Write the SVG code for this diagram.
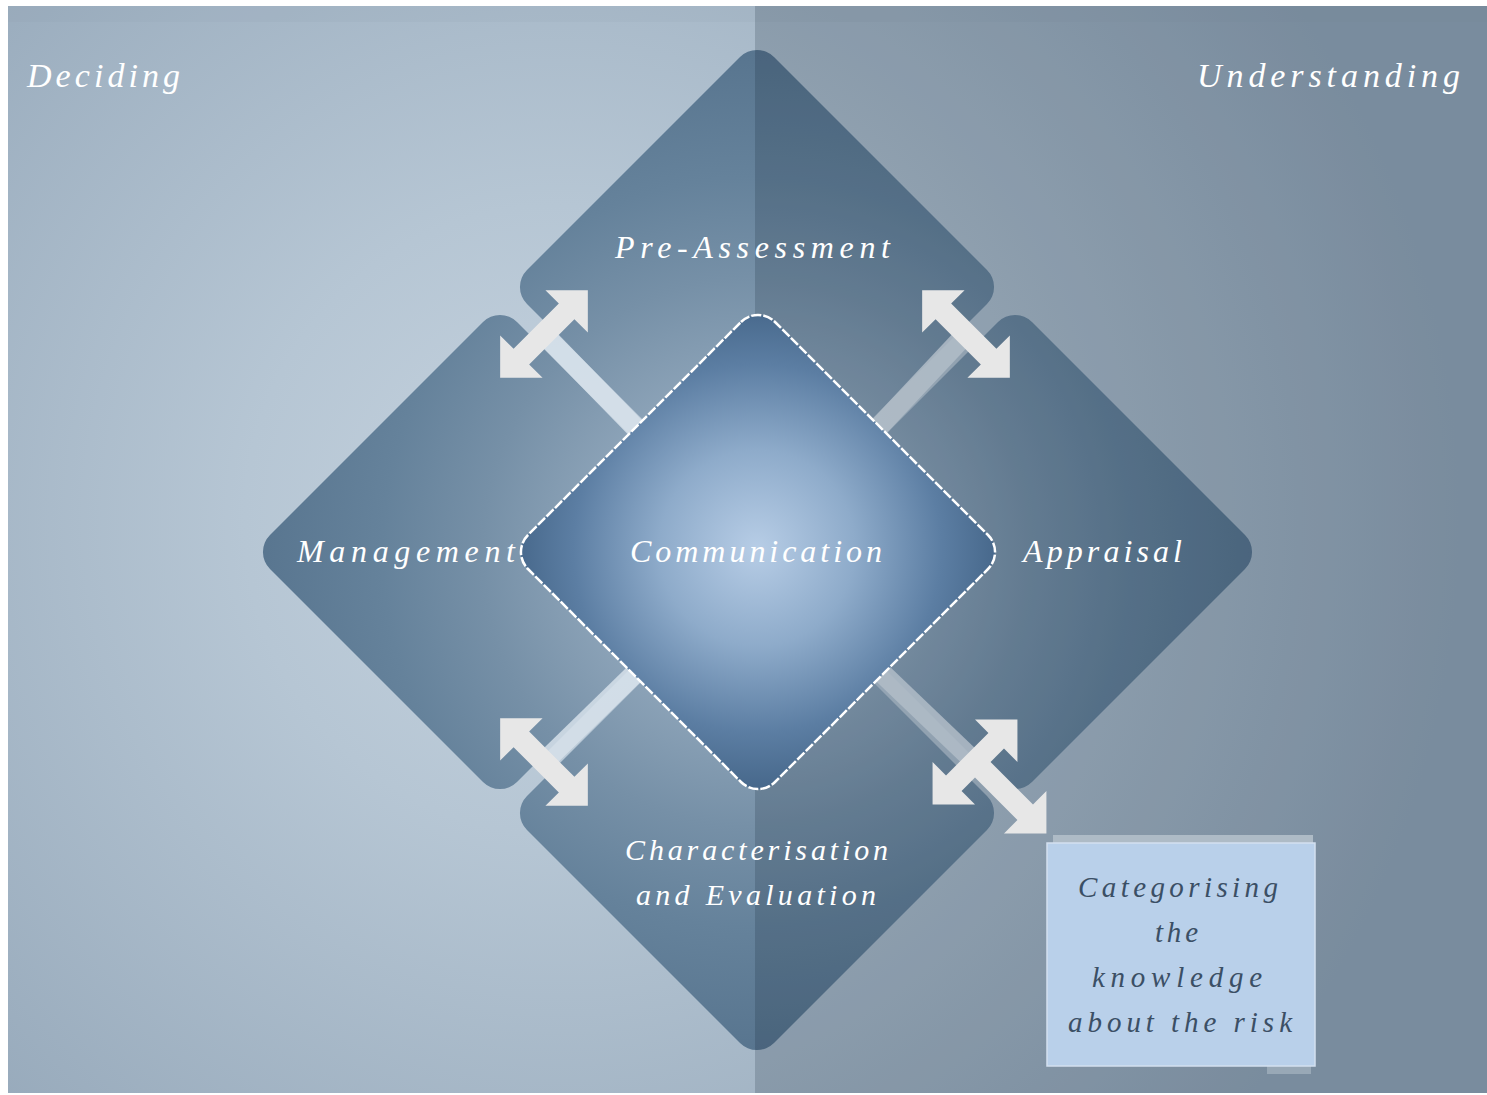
<svg xmlns="http://www.w3.org/2000/svg" width="1487" height="1095" viewBox="0 0 1487 1095">
<defs>
<radialGradient id="bg" gradientUnits="userSpaceOnUse" cx="560" cy="520" r="900">
<stop offset="0" stop-color="#c6d3df"/>
<stop offset="0.35" stop-color="#b6c6d4"/>
<stop offset="1" stop-color="#92a5b7"/>
</radialGradient>
<radialGradient id="dg" gradientUnits="userSpaceOnUse" cx="757" cy="552" r="500">
<stop offset="0" stop-color="#a3b8ca"/>
<stop offset="0.35" stop-color="#8ba2b7"/>
<stop offset="0.55" stop-color="#7690a7"/>
<stop offset="0.75" stop-color="#65829b"/>
<stop offset="1" stop-color="#58758f"/>
</radialGradient>
<radialGradient id="cg" gradientUnits="userSpaceOnUse" cx="757" cy="548" r="245">
<stop offset="0" stop-color="#b7cde6"/>
<stop offset="0.4" stop-color="#8eabca"/>
<stop offset="0.75" stop-color="#5c7ea3"/>
<stop offset="1" stop-color="#456689"/>
</radialGradient>
<path id="arr2" d="M -62 0 L -32 -30 L -32 -11 L 32 -11 L 32 -30 L 62 0 L 32 30 L 32 11 L -32 11 L -32 30 Z"/>
</defs>
<style>
.dia{fill:url(#dg)}
.t{font-family:"Liberation Serif","DejaVu Serif",serif;font-style:italic;fill:#ffffff}
.bt{font-family:"Liberation Serif","DejaVu Serif",serif;font-style:italic;fill:#3b4f65}
.strip{stroke:#d6e1ea;stroke-width:20;stroke-opacity:0.85;fill:none}
.arrow{fill:#e7e7e7}
</style>
<rect x="0" y="0" width="1487" height="1095" fill="#ffffff"/>
<rect id="background" x="8" y="6" width="1479" height="1087" fill="url(#bg)"/>
<rect x="8" y="6" width="1479" height="16" fill="#8a9cae" fill-opacity="0.12"/>
<g id="node-preassessment">
<path class="dia" d="M 740,57 A 24 24 0 0 1 774,57 L 987,270 A 24 24 0 0 1 987,304 L 774,517 A 24 24 0 0 1 740,517 L 527,304 A 24 24 0 0 1 527,270 Z"/>
</g>
<g id="node-management">
<path class="dia" d="M 483,322 A 24 24 0 0 1 517,322 L 730,535 A 24 24 0 0 1 730,569 L 517,782 A 24 24 0 0 1 483,782 L 270,569 A 24 24 0 0 1 270,535 Z"/>
</g>
<g id="node-appraisal">
<path class="dia" d="M 998,322 A 24 24 0 0 1 1032,322 L 1245,535 A 24 24 0 0 1 1245,569 L 1032,782 A 24 24 0 0 1 998,782 L 785,569 A 24 24 0 0 1 785,535 Z"/>
</g>
<g id="node-characterisation">
<path class="dia" d="M 740,583 A 24 24 0 0 1 774,583 L 987,796 A 24 24 0 0 1 987,830 L 774,1043 A 24 24 0 0 1 740,1043 L 527,830 A 24 24 0 0 1 527,796 Z"/>
</g>
<g id="connectors">
<line class="strip" x1="544" y1="334" x2="700" y2="494"/>
<line class="strip" x1="966" y1="334" x2="816" y2="494"/>
<line class="strip" x1="544" y1="762" x2="700" y2="610"/>
<line class="strip" x1="975" y1="762" x2="816" y2="610"/>
</g>
<rect id="right-shade" x="755" y="6" width="732" height="1087" fill="#0a1a2e" fill-opacity="0.18"/>
<g id="arrows">
<use href="#arr2" class="arrow" transform="translate(544 334) rotate(-45)"/>
<use href="#arr2" class="arrow" transform="translate(966 334) rotate(45)"/>
<use href="#arr2" class="arrow" transform="translate(544 762) rotate(45)"/>
<path class="arrow" transform="translate(975 762) rotate(-45)" d="M -60 0 L -30 -30 L -30 -11 L 30 -11 L 30 -30 L 60 0 L 30 30 L 30 11 L 11 11 L 11 71 L 30 71 L 0 101 L -30 71 L -11 71 L -11 11 L -30 11 L -30 30 Z"/>
</g>
<g id="labels">
<text class="t" x="27" y="87" font-size="34" textLength="153" lengthAdjust="spacing">Deciding</text>
<text class="t" x="1197" y="87" font-size="34" textLength="263" lengthAdjust="spacing">Understanding</text>
<text class="t" x="615" y="258" font-size="32" textLength="275" lengthAdjust="spacing">Pre-Assessment</text>
<text class="t" x="297" y="562" font-size="32" textLength="218" lengthAdjust="spacing">Management</text>
<text class="t" x="1023" y="562" font-size="32" textLength="159" lengthAdjust="spacing">Appraisal</text>
<text class="t" x="625" y="860" font-size="30" textLength="263" lengthAdjust="spacing">Characterisation</text>
<text class="t" x="636" y="905" font-size="30" textLength="240" lengthAdjust="spacing">and Evaluation</text>
</g>
<g id="node-communication">
<path d="M 741,322 A 24 24 0 0 1 775,322 L 988,535 A 24 24 0 0 1 988,569 L 775,782 A 24 24 0 0 1 741,782 L 528,569 A 24 24 0 0 1 528,535 Z" fill="url(#cg)" stroke="#ffffff" stroke-width="2.5" stroke-dasharray="10 2"/>
<text class="t" x="630" y="562" font-size="32" textLength="252" lengthAdjust="spacing">Communication</text>
</g>
<g id="node-categorising">
<rect x="1053" y="835" width="260" height="9" fill="#aebbc6"/>
<rect x="1267" y="1064" width="44" height="10" fill="#98a8b6"/>
<rect x="1047" y="843" width="268" height="223" fill="#b9d0ea" stroke="#d3e0ef" stroke-width="1.5"/>
<text class="bt" x="1078" y="897" font-size="29" textLength="200" lengthAdjust="spacing">Categorising</text>
<text class="bt" x="1155" y="942" font-size="29" textLength="43" lengthAdjust="spacing">the</text>
<text class="bt" x="1092" y="987" font-size="29" textLength="170" lengthAdjust="spacing">knowledge</text>
<text class="bt" x="1068" y="1032" font-size="29" textLength="224" lengthAdjust="spacing">about the risk</text>
</g>
</svg>
